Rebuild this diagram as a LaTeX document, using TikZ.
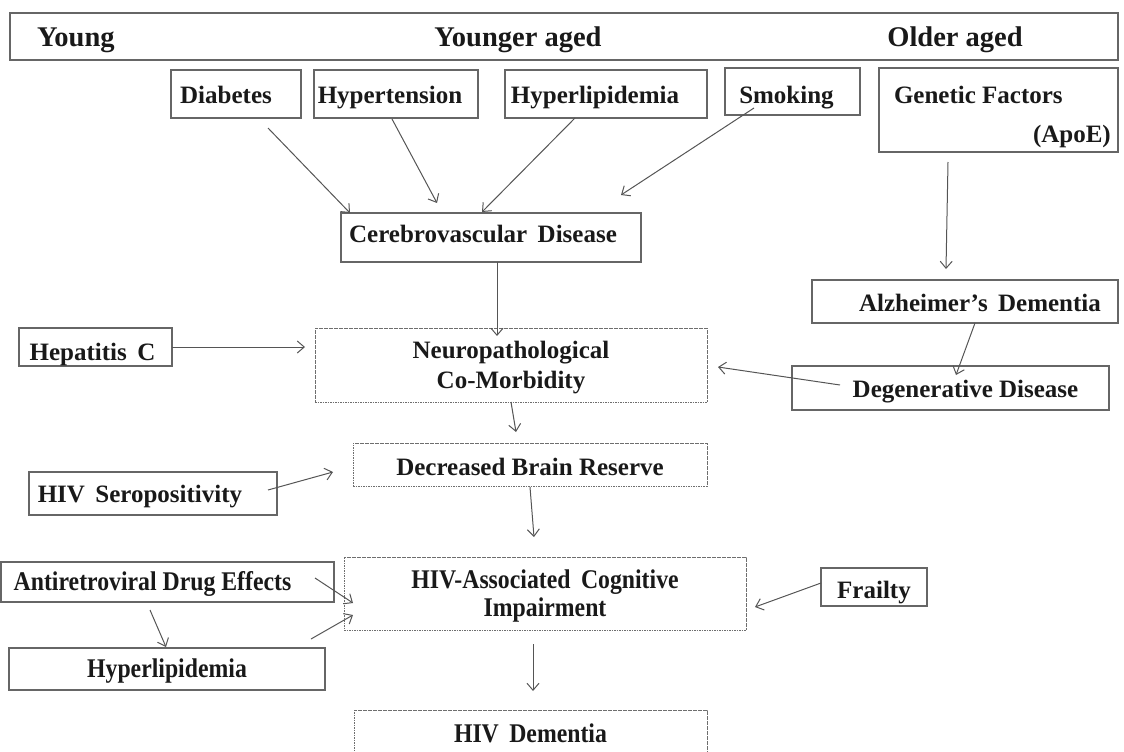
\documentclass[tikz,border=0pt]{standalone}
\usepackage{fontspec}
\setmainfont{Liberation Serif}
\newfontfamily\condfont[FakeStretch=0.88]{Liberation Serif}
\usetikzlibrary{arrows.meta}
\definecolor{boxgray}{HTML}{666666}
\definecolor{dashgray}{HTML}{6E6E6E}
\definecolor{arrgray}{HTML}{555555}
\begin{document}
\begin{tikzpicture}[x=1pt,y=-1pt,
  box/.style={draw=boxgray, line width=1.4pt, inner sep=0pt, outer sep=0pt, anchor=north west,
    font=\fontsize{25}{29}\selectfont\bfseries, text=black!90},
  bl/.style={text height=#1, text depth=0pt},
  bl/.default=18pt,
  dbox/.style={box, draw=dashgray, line width=0.9pt, dash pattern=on 1.6pt off 0.9pt},
  cond/.style={font=\condfont\fontsize{27}{28}\selectfont\bfseries},
  lab/.style={inner sep=0pt, outer sep=0pt, font=\fontsize{28.5}{32}\selectfont\bfseries, text=black!90},
  arr/.style={draw=arrgray, line width=1pt, -{Straight Barb[length=7pt,width=12pt]}},
]
\begin{scope}
\clip (0,0) rectangle (1124,752);
% top bar
\node[box, minimum width=1108pt, minimum height=47pt] (bar) at (10,13) {};
\node[lab, anchor=base west] (young) at (37,47) {Young};
\node[lab, anchor=base] (younger) at (518,47) {Younger aged};
\node[lab, anchor=base] (older) at (955,47) {Older aged};
% risk factors
\node[box, bl, minimum width=130pt, minimum height=48pt] (diab) at (171,70) {Diabetes\hspace*{20pt}};
\node[box, bl, minimum width=164pt, minimum height=48pt] (hyp) at (314,70) {Hypertension\hspace*{12pt}};
\node[box, bl, minimum width=202pt, minimum height=48pt] (hlip) at (505,70) {Hyperlipidemia\hspace*{22pt}};
\node[box, bl=23pt, minimum width=135pt, minimum height=47pt] (smok) at (725,68) {Smoking\hspace*{12pt}};
\node[box, minimum width=239pt, minimum height=84pt] (gen) at (879,68)
  {\begin{minipage}[c][84pt][t]{239pt}\vspace*{18pt}\hspace*{15pt}Genetic Factors\\[10pt]\hspace*{154pt}(ApoE)\end{minipage}};
% middle
\node[box, bl=9pt, minimum width=300pt, minimum height=49pt] (cereb) at (341,213) {Cerebrovascular\, Disease\hspace*{16pt}};
\node[dbox, align=center, minimum width=392pt, minimum height=74pt, font=\fontsize{25}{30}\selectfont\bfseries] (neuro) at (315,328) {\rule{0pt}{23pt}Neuropathological\\Co-Morbidity};
\node[box, bl=26pt, minimum width=153pt, minimum height=38pt] (hep) at (19,328) {Hepatitis\, C\hspace*{6pt}};
\node[box, bl=19pt, minimum width=306pt, minimum height=43pt] (alz) at (812,280) {\hspace*{30pt}Alzheimer’s\, Dementia};
\node[box, bl=18pt, minimum width=317pt, minimum height=44pt] (deg) at (792,366) {\hspace*{30pt}Degenerative Disease};
\node[dbox, bl=21pt, minimum width=354pt, minimum height=43pt] (dec) at (353,443) {Decreased Brain Reserve};
\node[box, bl=17pt, minimum width=248pt, minimum height=43pt] (sero) at (29,472) {HIV\, Seropositivity\hspace*{26pt}};
% bottom
\node[dbox, cond, align=center, minimum width=402pt, minimum height=73pt] (hivaci) at (344,557) {\rule{0pt}{24.5pt}HIV-Associated\, Cognitive\\Impairment};
\node[box, bl=22pt, minimum width=106pt, minimum height=38pt] (frail) at (821,568) {Frailty};
\node[box, cond, bl=16pt, minimum width=333pt, minimum height=40pt] (anti) at (1,562) {Antiretroviral Drug Effects\hspace*{30pt}};
\node[box, cond, bl=16pt, minimum width=316pt, minimum height=42pt] (hlip2) at (9,648) {Hyperlipidemia};
\node[dbox, cond, bl=12pt, minimum width=353pt, minimum height=52pt] (dem) at (354,710) {HIV\, Dementia};
% arrows
\draw[arr] ([xshift=32pt,yshift=-10pt]diab.south) -- ([xshift=-141pt]cereb.north);
\draw[arr] ([xshift=-4pt,yshift=-1pt]hyp.south) -- ([xshift=-54pt,yshift=10pt]cereb.north);
\draw[arr] ([xshift=-31pt]hlip.south) -- ([xshift=-9pt,yshift=1pt]cereb.north);
\draw[arr] ([xshift=-38.5pt,yshift=7pt]smok.south) -- ([xshift=-20pt,yshift=18pt]cereb.north east);
\draw[arr] ([xshift=-50.5pt,yshift=-10pt]gen.south) -- ([xshift=-19pt,yshift=11pt]alz.north);
\draw[arr] ([xshift=10pt]alz.south) -- ([xshift=5.5pt,yshift=-9pt]deg.north);
\draw[arr] ([xshift=48pt,yshift=3pt]deg.west) -- ([xshift=11pt,yshift=-2pt]neuro.east);
\draw[arr] ([xshift=6pt]cereb.south) -- ([xshift=-14pt,yshift=-8pt]neuro.north);
\draw[arr] (hep.east) -- ([xshift=-10pt,yshift=18pt]neuro.west);
\draw[arr] (neuro.south) -- ([xshift=-14pt,yshift=11pt]dec.north);
\draw[arr] ([xshift=-9pt,yshift=3.5pt]sero.east) -- ([xshift=-20pt,yshift=-7.5pt]dec.west);
\draw[arr] ([yshift=-1pt]dec.south) -- ([xshift=-11pt,yshift=20pt]hivaci.north);
\draw[arr] ([xshift=-19pt,yshift=4pt]anti.east) -- ([xshift=9pt,yshift=-9.5pt]hivaci.west);
\draw[arr] ([xshift=-17.5pt,yshift=-8pt]anti.south) -- ([xshift=-1pt,yshift=1pt]hlip2.north);
\draw[arr] ([xshift=-14pt,yshift=9pt]hlip2.north east) -- ([xshift=9pt,yshift=-21.5pt]hivaci.west);
\draw[arr] ([yshift=4pt]frail.west) -- ([xshift=9pt,yshift=-13.5pt]hivaci.east);
\draw[arr] ([xshift=-12pt,yshift=-14pt]hivaci.south) -- ([xshift=2.5pt,yshift=19pt]dem.north);
\end{scope}
\pgfresetboundingbox
\useasboundingbox (0,0) rectangle (1124,752);
\end{tikzpicture}
\end{document}
